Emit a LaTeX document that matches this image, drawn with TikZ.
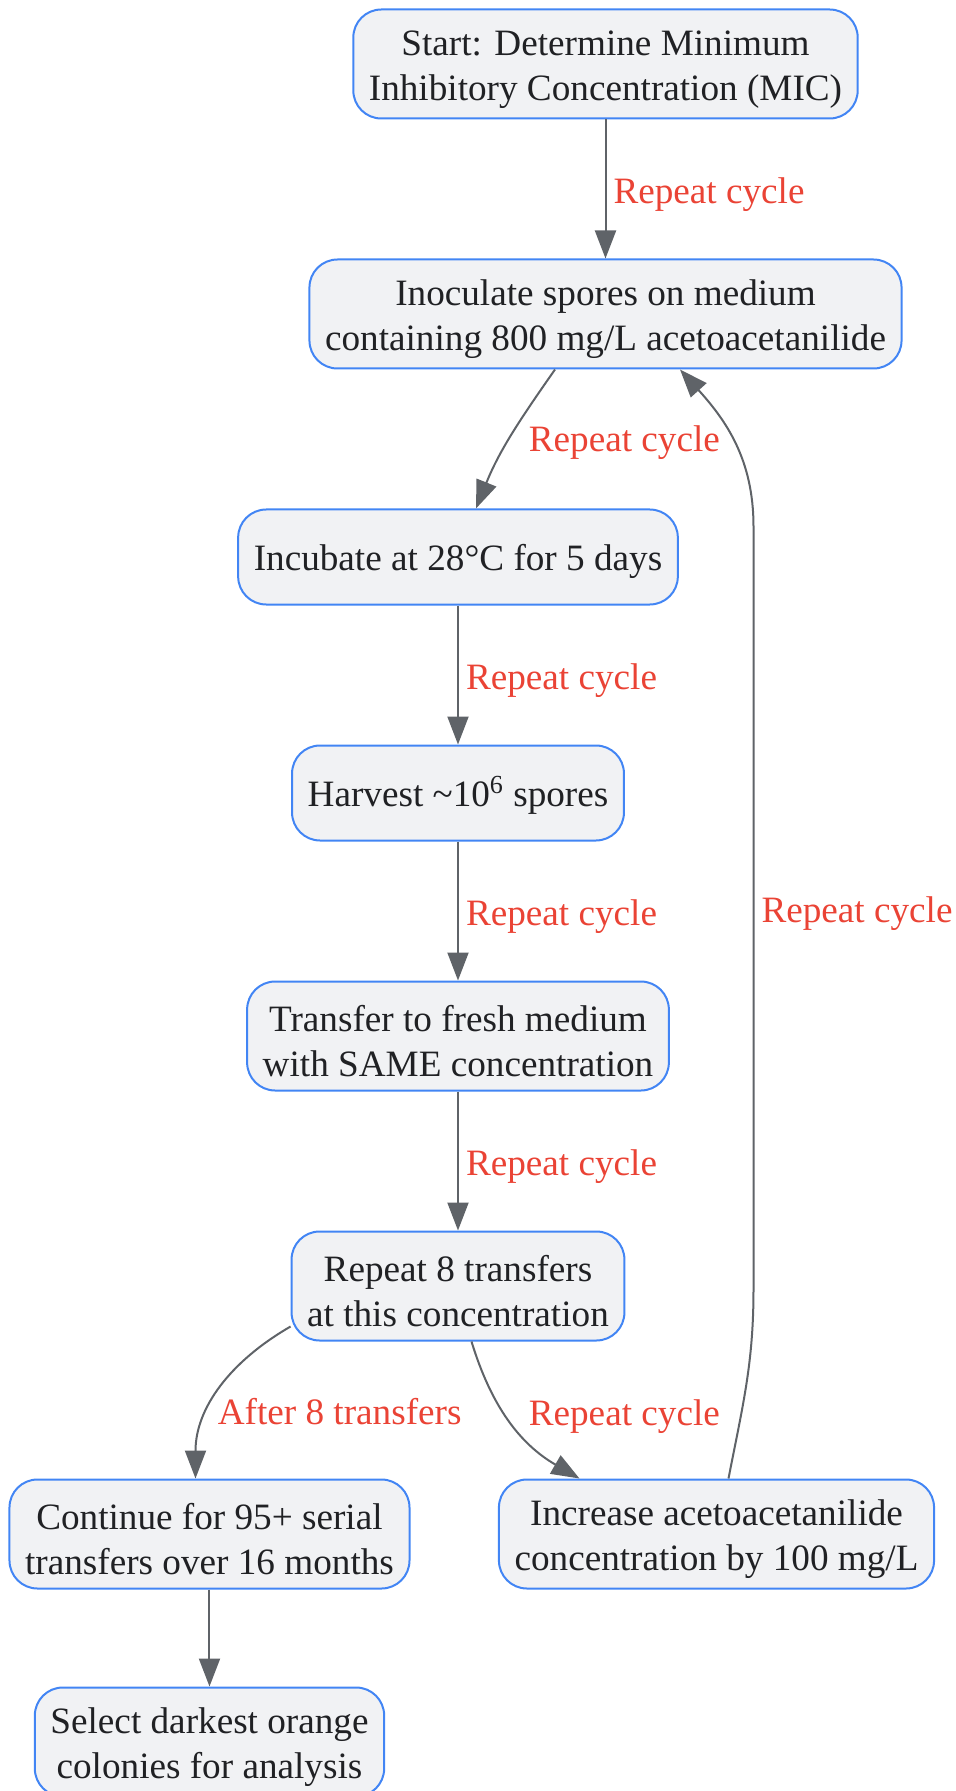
\documentclass[tikz,border=0pt]{standalone}
\usepackage{fontspec}
\setmainfont{Liberation Serif}
\usepackage{xcolor}
\usepackage{tikz}
\usetikzlibrary{arrows.meta, positioning}

\definecolor{nodeblue}{HTML}{4285F4}
\definecolor{nodefill}{HTML}{F1F2F4}
\definecolor{edgegray}{HTML}{5F6368}
\definecolor{lblred}{HTML}{EA4335}
\definecolor{txtdark}{HTML}{202124}

\begin{document}
\begin{tikzpicture}[
    node distance=69.5pt,
    basebox/.style={rectangle, draw=nodeblue, line width=1pt, rounded corners=14pt, fill=nodefill,
        text=txtdark, align=center, inner xsep=7.8pt, inner ysep=2pt,
        font=\fontsize{18.6pt}{22.5pt}\selectfont},
    box/.style={basebox, minimum height=54.5pt, execute at begin node={\rule{0pt}{40.4pt}}},
    onebox/.style={basebox, minimum height=47.5pt, execute at begin node={\rule{0pt}{17.3pt}}},
    arrow/.style={-{Triangle[length=14pt, width=10.5pt]}, draw=edgegray, line width=1pt},
    lbl/.style={text=lblred, inner sep=0pt, yshift=-2.8pt, font=\fontsize{18.6pt}{22.5pt}\selectfont}
]
    \useasboundingbox (-302.75pt,32pt) rectangle (175.25pt,-863.5pt);

    % Start
    \node[box] (start) at (0,0) {Start: Determine Minimum\\Inhibitory Concentration (MIC)};

    % Cycle
    \node[box, below=of start] (inoc) {Inoculate spores on medium\\containing 800 mg/L acetoacetanilide};
    \node[onebox, below=of inoc, xshift=-73.75pt] (incub) {Incubate at 28°C for 5 days};
    \node[onebox, below=of incub] (harvest) {Harvest \textasciitilde10\textsuperscript{6} spores};
    \node[box, below=of harvest] (transfer) {Transfer to fresh medium\\with SAME concentration};
    \node[box, below=of transfer] (rep) {Repeat 8 transfers\\at this concentration};

    % Outcomes
    \node[box, below=68.5pt of rep, xshift=-124.25pt] (cont) {Continue for 95+ serial\\transfers over 16 months};
    \node[box, below=68.5pt of rep, xshift=129.25pt] (inc) {Increase acetoacetanilide\\concentration by 100 mg/L};
    \node[box, below=48.5pt of cont] (sel) {Select darkest orange\\colonies for analysis};

    % Feedback route
    \coordinate[above=94.5pt of inc.north, xshift=18.5pt] (fbBot);
    \coordinate[below=78.5pt of inoc.south, xshift=74.25pt] (fbTop);

    % Arrows
    \draw[arrow] (start) -- node[lbl, midway, right=3.5pt] {Repeat cycle} (inoc);
    \draw[arrow] ([xshift=-25.25pt]inoc.south) to[out=-125, in=68]
        node[lbl, midway, right=8.5pt, yshift=-0.5pt] {Repeat cycle} ([xshift=9pt]incub.north);
    \draw[arrow] (incub) -- node[lbl, midway, right=3.5pt] {Repeat cycle} (harvest);
    \draw[arrow] (harvest) -- node[lbl, midway, right=3.5pt] {Repeat cycle} (transfer);
    \draw[arrow] (transfer) -- node[lbl, midway, right=3.5pt] {Repeat cycle} (rep);
    \draw[arrow] ([yshift=-20.25pt]rep.west) to[out=-150, in=90]
        node[lbl, pos=0.65, right=4.5pt, yshift=3.5pt] {After 8 transfers} ([xshift=-7pt]cont.north);
    \draw[arrow] ([xshift=6.75pt]rep.south) to[out=-73, in=150]
        node[lbl, midway, right=8.5pt, yshift=5.5pt] {Repeat cycle} ([xshift=-68.5pt]inc.north);
    \draw[arrow] ([xshift=6pt]inc.north) to[out=79, in=-90] (fbBot)
        -- node[lbl, midway, right=3.5pt] {Repeat cycle} (fbBot |- fbTop)
        to[out=90, in=-48] ([xshift=37.25pt]inoc.south);
    \draw[arrow] (cont) -- (sel);
\end{tikzpicture}
\end{document}
